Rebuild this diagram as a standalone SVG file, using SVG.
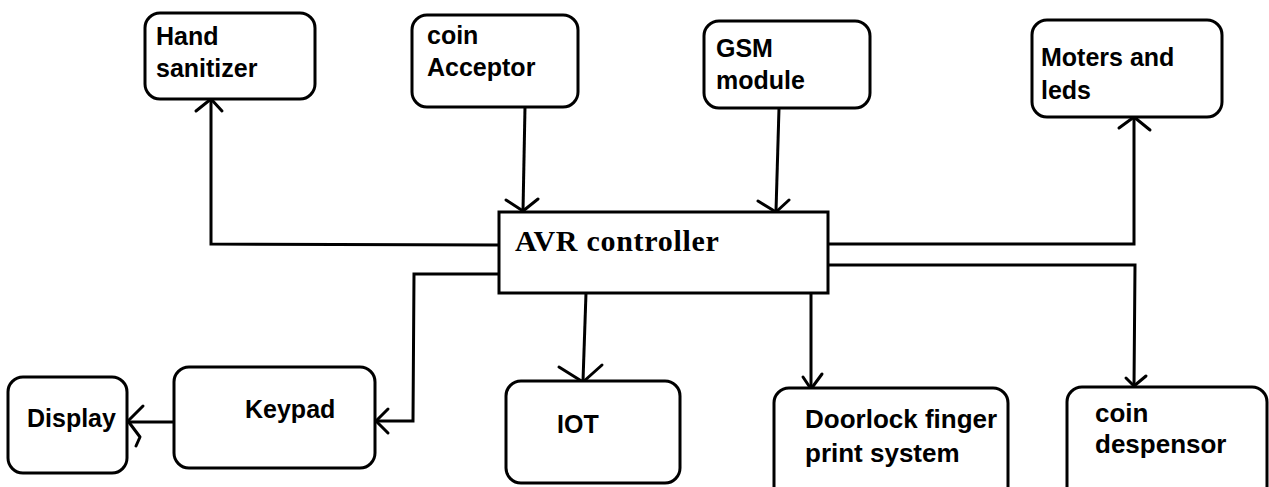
<svg xmlns="http://www.w3.org/2000/svg" width="1269" height="487" viewBox="0 0 1269 487">
  <style>
    .box { fill: #fff; stroke: #000; stroke-width: 3; }
    .lbl { font-family: "Liberation Sans", Arial, sans-serif; font-weight: bold; font-size: 25px; fill: #000; }
    .lbl26 { font-size: 26px; }
    .ctrl { font-family: "Liberation Serif", "Times New Roman", serif; font-weight: bold; font-size: 30px; letter-spacing: 0.7px; fill: #000; }
    .wire { fill: none; stroke: #000; stroke-width: 3; stroke-linejoin: miter; }
    .head { fill: none; stroke: #000; stroke-width: 3; stroke-linecap: round; stroke-linejoin: round; }
  </style>
  <rect width="1269" height="487" fill="#fff"/>

  <!-- connectors -->
  <g id="connectors">
    <!-- controller to hand sanitizer -->
    <polyline class="wire" points="499,245 211,244 211,100"/>
    <polyline class="head" points="196,111 211,99 222,111"/>
    <!-- coin acceptor to controller -->
    <polyline class="wire" points="525,107 523,211"/>
    <polyline class="head" points="506,200 523,211 538,199"/>
    <!-- GSM to controller -->
    <polyline class="wire" points="779,108 776,211"/>
    <polyline class="head" points="758,201 776,212 789,200"/>
    <!-- controller to motors and leds -->
    <polyline class="wire" points="828,244 1134,244 1134,118"/>
    <polyline class="head" points="1119,128 1134,117 1150,130"/>
    <!-- controller to keypad -->
    <polyline class="wire" points="499,274 414,274 413,421 376,421"/>
    <polyline class="head" points="388,409 376,421 388,433"/>
    <!-- keypad to display -->
    <polyline class="wire" points="180,422 128,422"/>
    <polyline class="head" points="143,406 128,421 140,437 136,446"/>
    <!-- controller to IOT -->
    <polyline class="wire" points="586,293 583,381"/>
    <polyline class="head" points="559,367 583,382 602,365"/>
    <!-- controller to doorlock -->
    <polyline class="wire" points="811,293 811,388"/>
    <polyline class="head" points="803,377 811,389 822,374"/>
    <!-- controller to coin dispenser -->
    <polyline class="wire" points="828,265 1135,265 1134,386"/>
    <polyline class="head" points="1126,378 1134,386 1146,376"/>
  </g>

  <g id="avr-controller">
    <rect x="499" y="212" width="329" height="81" fill="#fff" stroke="#000" stroke-width="3"/>
    <text class="ctrl" x="515" y="251">AVR controller</text>
  </g>

  <g id="hand-sanitizer">
    <rect class="box" x="145" y="13" width="170" height="86" rx="15"/>
    <text class="lbl" x="156" y="45">Hand</text>
    <text class="lbl" x="156" y="77">sanitizer</text>
  </g>

  <g id="coin-acceptor">
    <rect class="box" x="412" y="15" width="166" height="92" rx="15"/>
    <text class="lbl" x="427" y="44">coin</text>
    <text class="lbl" x="427" y="76">Acceptor</text>
  </g>

  <g id="gsm-module">
    <rect class="box" x="704" y="21" width="166" height="87" rx="15"/>
    <text class="lbl" x="716" y="57">GSM</text>
    <text class="lbl" x="716" y="89">module</text>
  </g>

  <g id="motors-leds">
    <rect class="box" x="1032" y="20" width="190" height="97" rx="15"/>
    <text class="lbl" x="1041" y="66">Moters and</text>
    <text class="lbl" x="1041" y="99">leds</text>
  </g>

  <g id="display">
    <rect class="box" x="8" y="377" width="119" height="96" rx="15"/>
    <text class="lbl" x="27" y="427">Display</text>
  </g>

  <g id="keypad">
    <rect class="box" x="174" y="367" width="201" height="101" rx="15"/>
    <text class="lbl" x="245" y="418">Keypad</text>
  </g>

  <g id="iot">
    <rect class="box" x="506" y="381" width="174" height="102" rx="15"/>
    <text class="lbl" x="557" y="433">IOT</text>
  </g>

  <g id="doorlock">
    <rect class="box" x="774" y="388" width="234" height="120" rx="15"/>
    <text class="lbl lbl26" x="805" y="428">Doorlock finger</text>
    <text class="lbl lbl26" x="805" y="462">print system</text>
  </g>

  <g id="coin-dispenser">
    <rect class="box" x="1067" y="387" width="200" height="120" rx="15"/>
    <text class="lbl lbl26" x="1095" y="422">coin</text>
    <text class="lbl lbl26" x="1095" y="453">despensor</text>
  </g>
</svg>
